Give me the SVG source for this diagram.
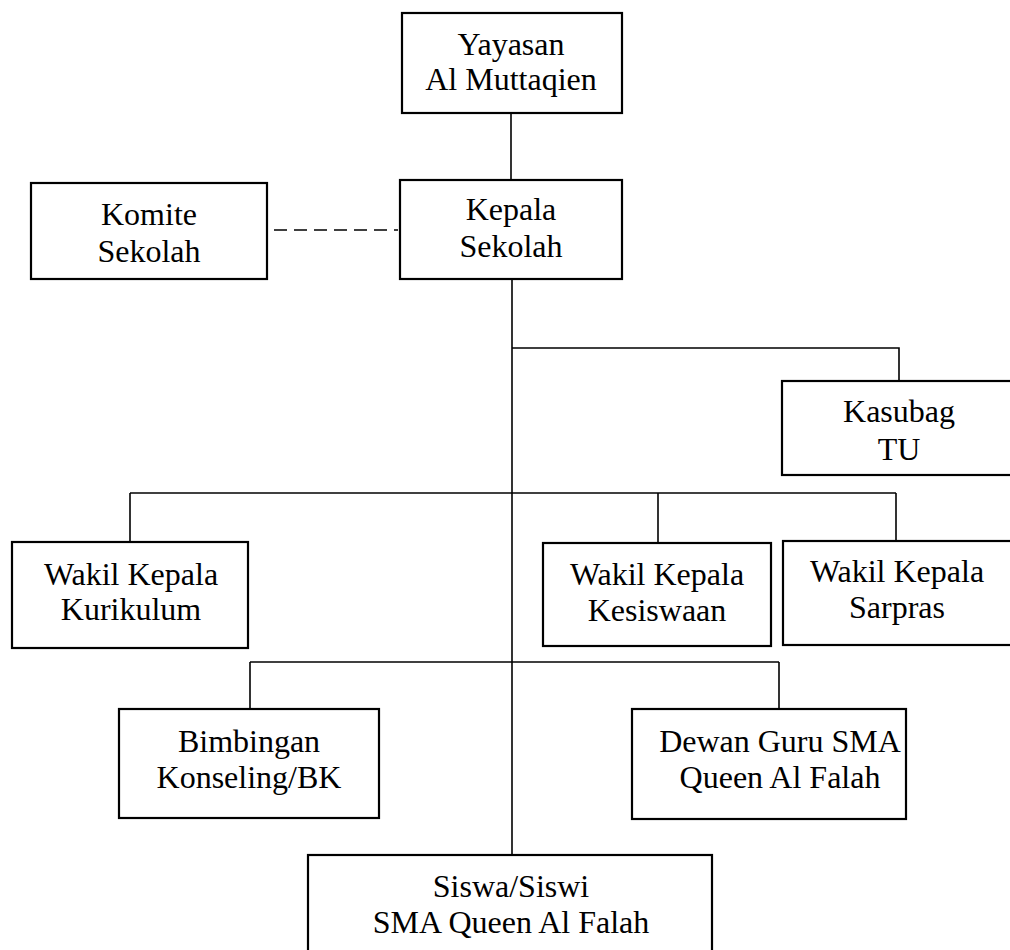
<svg xmlns="http://www.w3.org/2000/svg" width="1010" height="950" viewBox="0 0 1010 950">
<style>
.box{fill:#fff;stroke:#000;stroke-width:2.2}
.ln{fill:none;stroke:#000;stroke-width:1.6}
.dash{fill:none;stroke:#000;stroke-width:1.6;stroke-dasharray:13 7}
text{font-family:"Liberation Serif","Times New Roman",serif;font-size:32px;fill:#000;text-anchor:middle}
</style>
<rect width="1010" height="950" fill="#fff"/>
<g id="connectors">
<line class="ln" x1="511" y1="113" x2="511" y2="180"/>
<line class="dash" x1="274" y1="230" x2="398" y2="230"/>
<line class="ln" x1="512" y1="279" x2="512" y2="855"/>
<polyline class="ln" points="512,348 899,348 899,381"/>
<line class="ln" x1="130" y1="493" x2="896" y2="493"/>
<line class="ln" x1="130" y1="493" x2="130" y2="542"/>
<line class="ln" x1="658" y1="493" x2="658" y2="543"/>
<line class="ln" x1="896" y1="493" x2="896" y2="541"/>
<line class="ln" x1="250" y1="662" x2="779" y2="662"/>
<line class="ln" x1="250" y1="662" x2="250" y2="709"/>
<line class="ln" x1="779" y1="662" x2="779" y2="709"/>
</g>
<g id="yayasan">
<rect class="box" x="402" y="13" width="220" height="100"/>
<text x="511" y="55">Yayasan</text>
<text x="511" y="90">Al Muttaqien</text>
</g>
<g id="komite">
<rect class="box" x="31" y="183" width="236" height="96"/>
<text x="149" y="225">Komite</text>
<text x="149" y="262">Sekolah</text>
</g>
<g id="kepala">
<rect class="box" x="400" y="180" width="222" height="99"/>
<text x="511" y="220">Kepala</text>
<text x="511" y="257">Sekolah</text>
</g>
<g id="kasubag">
<rect class="box" x="782" y="381" width="240" height="94"/>
<text x="899" y="422">Kasubag</text>
<text x="899" y="460">TU</text>
</g>
<g id="kurikulum">
<rect class="box" x="12" y="542" width="236" height="106"/>
<text x="131" y="585">Wakil Kepala</text>
<text x="131" y="620">Kurikulum</text>
</g>
<g id="kesiswaan">
<rect class="box" x="543" y="543" width="228" height="103"/>
<text x="657" y="585">Wakil Kepala</text>
<text x="657" y="621">Kesiswaan</text>
</g>
<g id="sarpras">
<rect class="box" x="783" y="541" width="240" height="104"/>
<text x="897" y="582">Wakil Kepala</text>
<text x="897" y="618">Sarpras</text>
</g>
<g id="bimbingan">
<rect class="box" x="119" y="709" width="260" height="109"/>
<text x="249" y="752">Bimbingan</text>
<text x="249" y="788">Konseling/BK</text>
</g>
<g id="dewan">
<rect class="box" x="632" y="709" width="274" height="110"/>
<text x="780" y="752">Dewan Guru SMA</text>
<text x="780" y="788">Queen Al Falah</text>
</g>
<g id="siswa">
<rect class="box" x="308" y="855" width="404" height="110"/>
<text x="511" y="897">Siswa/Siswi</text>
<text x="511" y="933">SMA Queen Al Falah</text>
</g>
</svg>
